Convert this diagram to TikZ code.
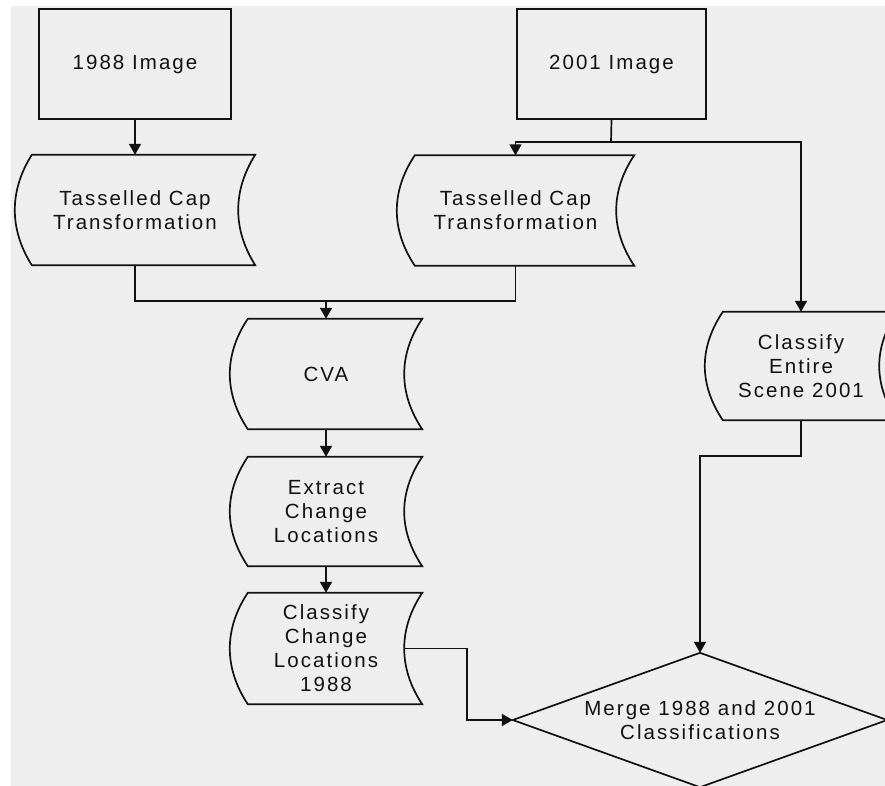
\documentclass[tikz,border=0pt]{standalone}
\usepackage{fontspec}
\setmainfont{Liberation Sans}[LetterSpace=10]
\usetikzlibrary{arrows.meta,calc}
\definecolor{bggray}{HTML}{EEEEEE}
\definecolor{inkc}{HTML}{111111}
\tikzset{
  ln/.style={line width=1.7pt, draw=inkc},
  arr/.style={ln, -{Triangle[width=12pt,length=11pt]}},
  txt/.style={font=\fontsize{20.5}{24}\selectfont, align=center, text=inkc, inner sep=0pt},
  imgbox/.style={txt, draw=inkc, line width=1.7pt, minimum width=192pt, minimum height=110pt},
  store/.style={txt, minimum width=192pt, minimum height=110pt},
}
% #1 node name, #2 arc depth; arcs leave the corners diagonally
\newcommand\storeshape[2]{%
  \draw[ln] ($(#1.north west)+(#2,0)$) -- (#1.north east)
    .. controls ($(#1.north east)+({-4*#2/3},36)$) and ($(#1.south east)+({-4*#2/3},-36)$) .. (#1.south east)
    -- ($(#1.south west)+(#2,0)$)
    .. controls ($(#1.south west)+({-#2/3},-36)$) and ($(#1.north west)+({-#2/3},36)$) .. cycle;
}
\begin{document}
\begin{tikzpicture}[x=1pt,y=-1pt]
  \path[use as bounding box, clip] (0,0) rectangle (885,786);
  \fill[white] (0,0) rectangle (885,786);
  \fill[bggray] (11,6) rectangle (885,786);

  \node[imgbox] (img1) at (135,64) {1988 Image};
  \node[imgbox, minimum width=189pt] (img2) at (611.5,64) {2001 Image};

  \node[store, minimum width=240pt] (tc1) at (135,210) {Tasselled Cap\\Transformation};
  \node[store, minimum width=237pt] (tc2) at (515.5,210.5) {Tasselled Cap\\Transformation};
  \node[store] (cva) at (326,374) {CVA};
  \node[store, minimum height=109pt] (ext) at (326,511.5) {Extract\\Change\\Locations};
  \node[store, minimum height=111pt] (ccl) at (326,648.5) {Classify\\Change\\Locations\\1988};
  \node[store, minimum height=108pt] (ce) at (801,366) {Classify\\Entire\\Scene 2001};
  \node[txt, minimum width=374pt, minimum height=134pt] (merge) at (700,720) {Merge 1988 and 2001\\Classifications};

  \storeshape{tc1}{17}
  \storeshape{tc2}{18}
  \storeshape{cva}{18}
  \storeshape{ext}{18}
  \storeshape{ccl}{18}
  \storeshape{ce}{18}
  \draw[ln] (merge.north) -- (merge.east) -- (merge.south) -- (merge.west) -- cycle;

  \coordinate (j) at (611,142);
  \coordinate (k) at (326,301);
  \coordinate (b1) at (467,648.5);
  \coordinate (b2) at (700,456);

  \draw[arr] (img1) -- (tc1);
  \draw[ln] (img2.south) -- (j);
  \draw[arr] (j) -| (tc2.north);
  \draw[arr] (j) -| (ce.north);
  \draw[ln] (tc1.south) |- (k);
  \draw[ln] (tc2.south) |- (k);
  \draw[arr] (k) -- (cva.north);
  \draw[arr] (cva) -- (ext);
  \draw[arr] (ext) -- (ccl);
  \draw[arr] ([xshift=-18pt]ccl.east) -- (b1) |- (merge.west);
  \draw[arr] (ce.south) |- (b2) -- (merge.north);
\end{tikzpicture}
\end{document}
